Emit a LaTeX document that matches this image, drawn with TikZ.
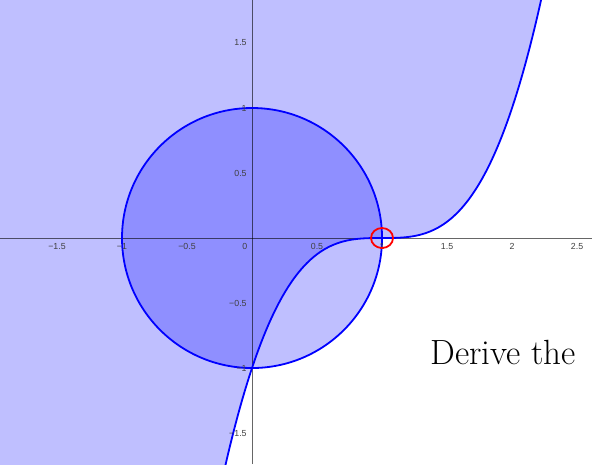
\documentclass[tikz,border=0pt]{standalone}
\usepackage{fontspec}
\usetikzlibrary{shapes.geometric}
\newfontfamily\labelfont{Liberation Sans}
\begin{document}
\begin{tikzpicture}[x=130pt,y=130pt,
  ticklab/.style={font=\labelfont\fontsize{8.8}{9}\selectfont, text=black!75, inner sep=0pt},
  regionfill/.style={fill=blue, fill opacity=0.25},
  curveline/.style={blue, line width=1.8pt},
  axisline/.style={black, opacity=0.6, line width=0.6pt}]
\useasboundingbox (-1.9385,-1.7385) rectangle (2.615,1.8308);
\begin{scope}
\clip (-1.9385,-1.7385) rectangle (2.615,1.8308);
% region above the curve y=(x-1)^3
\fill[regionfill] plot[domain=-0.22:2.24, samples=120, smooth] (\x,{(\x-1)^3})
  -- (-1.9385,2.0) -- (-1.9385,-1.9) -- cycle;
% disk
\fill[regionfill] (0,0) circle (1);
% axes
\coordinate (xl) at (-1.9385,0);
\coordinate (xr) at (2.615,0);
\coordinate (yt) at (0,1.8308);
\coordinate (yb) at (0,-1.7385);
\draw[axisline] (xl) -- (xr);
\draw[axisline] (yb) -- (yt);
% curves
\draw[curveline] (0,0) circle (1);
\draw[curveline] plot[domain=-0.22:2.24, samples=120, smooth] (\x,{(\x-1)^3});
\end{scope}
% tick labels x
\foreach \v/\t in {-1.5/−1.5,-1/−1,-0.5/−0.5,0.5/0.5,1/1,1.5/1.5,2/2,2.5/2.5}
  \node[ticklab] (xt\t) at (\v,-0.068) {\t};
\node[ticklab, anchor=east] (xt0) at (-0.035,-0.068) {0};
% tick labels y
\foreach \v/\t in {1.5/1.5,1/1,0.5/0.5,-0.5/−0.5,-1/−1,-1.5/−1.5}
  \node[ticklab, anchor=east] (yt\t) at (-0.04,\v) {\t};
% red marker
\node[draw=red, line width=1.8pt, ellipse, minimum width=22pt, minimum height=20pt, inner sep=0pt] (mark) at (1,0) {};
% text
\node[anchor=base west, inner sep=0pt, font=\fontsize{35}{40}\selectfont] (txt) at (1.37,-0.975) {Derive the};
\end{tikzpicture}
\end{document}
